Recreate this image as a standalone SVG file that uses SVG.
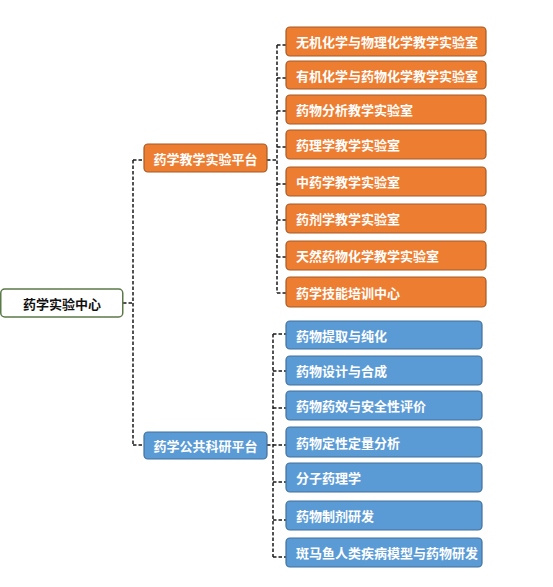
<svg xmlns="http://www.w3.org/2000/svg" width="553" height="587" viewBox="0 0 553 587">
<style>
.o{fill:#ED7D31;stroke:#A65A25;stroke-width:1.2}
.b{fill:#5B9BD5;stroke:#41719C;stroke-width:1.2}
.r{fill:#FFFFFF;stroke:#5B7A48;stroke-width:1.5}
.t{font-family:"Noto Sans CJK SC","Noto Sans",sans-serif;font-size:13px;font-weight:bold;fill:#FFFFFF;dominant-baseline:central}
.tc{text-anchor:middle}
.tr{fill:#111111}
.c{fill:none;stroke:#1a1a1a;stroke-width:1.5;stroke-dasharray:3.5,2}
</style>
<rect width="553" height="587" fill="#FFFFFF"/>
<g id="connectors">
<path class="c" d="M123,303 H133 M133,160 V445 M133,160 H144 M133,445 H144"/>
<path class="c" d="M267,160 H277 M277,45 V293 M277,45 H286 M277,78 H286 M277,111 H286 M277,147 H286 M277,184 H286 M277,220 H286 M277,257 H286 M277,293 H286"/>
<path class="c" d="M267,445 H273 M273,334 V557 M273,334 H286 M273,371 H286 M273,408 H286 M273,445 H286 M273,482 H286 M273,520 H286 M273,557 H286"/>
</g>
<g id="root"><rect class="r" x="0.75" y="289" width="122" height="28" rx="4"/><text class="t tc tr" x="62" y="303">药学实验中心</text></g>
<g id="p1"><rect class="o" x="144" y="144" width="123" height="28" rx="4"/><text class="t tc" x="205.5" y="158">药学教学实验平台</text></g>
<g id="p2"><rect class="b" x="144" y="432" width="123" height="27" rx="4"/><text class="t tc" x="205.5" y="445.5">药学公共科研平台</text></g>
<g id="o1"><rect class="o" x="286" y="27" width="200" height="29" rx="4"/><text class="t" x="296" y="41.5">无机化学与物理化学教学实验室</text></g>
<g id="o2"><rect class="o" x="286" y="61" width="200" height="28" rx="4"/><text class="t" x="296" y="75">有机化学与药物化学教学实验室</text></g>
<g id="o3"><rect class="o" x="286" y="95" width="200" height="29" rx="4"/><text class="t" x="296" y="109.5">药物分析教学实验室</text></g>
<g id="o4"><rect class="o" x="286" y="130" width="200" height="29" rx="4"/><text class="t" x="296" y="144.5">药理学教学实验室</text></g>
<g id="o5"><rect class="o" x="286" y="167" width="200" height="29" rx="4"/><text class="t" x="296" y="181.5">中药学教学实验室</text></g>
<g id="o6"><rect class="o" x="286" y="204" width="200" height="29" rx="4"/><text class="t" x="296" y="218.5">药剂学教学实验室</text></g>
<g id="o7"><rect class="o" x="286" y="241" width="200" height="29" rx="4"/><text class="t" x="296" y="255.5">天然药物化学教学实验室</text></g>
<g id="o8"><rect class="o" x="286" y="277" width="200" height="30" rx="4"/><text class="t" x="296" y="292">药学技能培训中心</text></g>
<g id="b1"><rect class="b" x="286" y="321" width="196" height="28" rx="4"/><text class="t" x="296" y="335">药物提取与纯化</text></g>
<g id="b2"><rect class="b" x="286" y="356" width="196" height="29" rx="4"/><text class="t" x="296" y="370.5">药物设计与合成</text></g>
<g id="b3"><rect class="b" x="286" y="391" width="196" height="29" rx="4"/><text class="t" x="296" y="405.5">药物药效与安全性评价</text></g>
<g id="b4"><rect class="b" x="286" y="427" width="196" height="30" rx="4"/><text class="t" x="296" y="442">药物定性定量分析</text></g>
<g id="b5"><rect class="b" x="286" y="463" width="196" height="29" rx="4"/><text class="t" x="296" y="477.5">分子药理学</text></g>
<g id="b6"><rect class="b" x="286" y="501" width="196" height="29" rx="4"/><text class="t" x="296" y="515.5">药物制剂研发</text></g>
<g id="b7"><rect class="b" x="286" y="538" width="196" height="29" rx="4"/><text class="t" x="296" y="552.5">斑马鱼人类疾病模型与药物研发</text></g>
</svg>
